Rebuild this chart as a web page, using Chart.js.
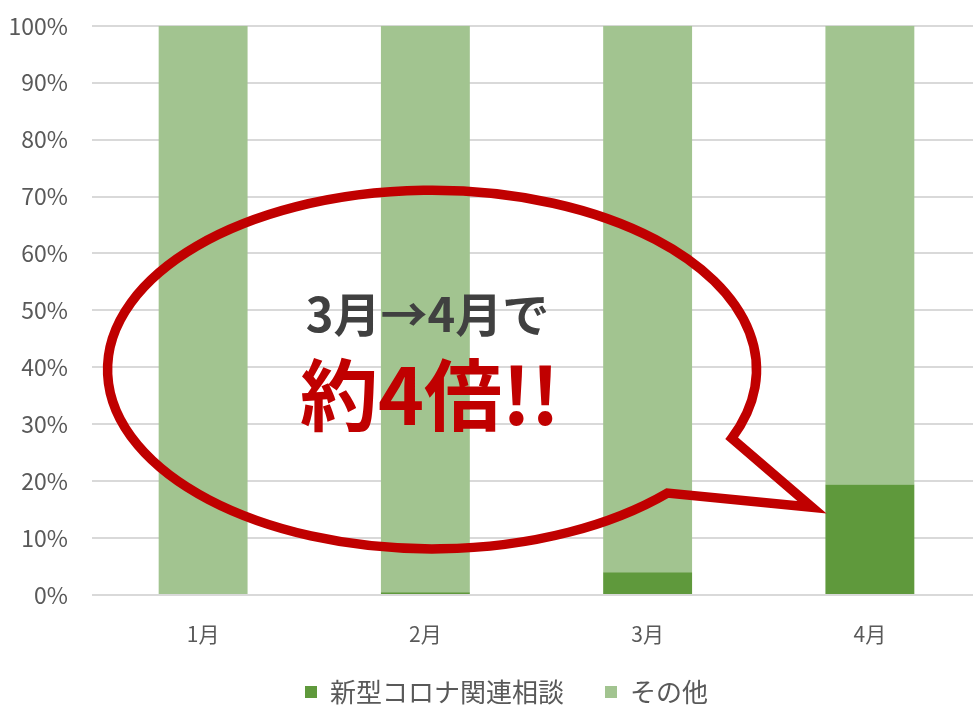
<!DOCTYPE html>
<html>
<head>
<meta charset="utf-8">
<script src="https://cdn.jsdelivr.net/npm/chart.js@4/dist/chart.umd.min.js"></script>
<style>
  html, body { margin: 0; padding: 0; background: #fff; overflow: hidden; }
  #wrap { width: 1012px; height: 707px; }
</style>
</head>
<body>
<div id="wrap"><canvas id="chart"></canvas></div>
<script>
const months = ['1月', '2月', '3月', '4月'];
const coronaShare = [0, 0.5, 4.0, 19.4];
const otherShare = [100, 99.5, 96.0, 80.6];
const yTicks = [0, 10, 20, 30, 40, 50, 60, 70, 80, 90, 100];

const FONT = '"Noto Sans CJK JP", "Noto Sans", sans-serif';

// callout bubble, positions in category index / percent units
const bubble = {
    cx: 1.03, cy: 39.6, rx: 1.46, ry: 31.5,
    joinTop: [2.37, 27.6], tip: [2.74, 15.4], joinBottom: [2.07, 18.3],
    line1: '3月→4月で', line2: '約4倍!!'
};

const calloutPlugin = {
    id: 'callout',
    afterLayout(chart) {
        // nudge legend to sit like the original
        const lg = chart.legend;
        lg.top += 8; lg.bottom += 8;
        lg.left += 16; lg.right += 16;
    },
    afterDatasetsDraw(chart) {
        const ctx = chart.ctx;
        const x = chart.scales.x, y = chart.scales.y;
        const px = v => x.getPixelForValue(v);
        const py = v => y.getPixelForValue(v);
        const cx = px(bubble.cx), cy = py(bubble.cy);
        const rx = px(bubble.cx + bubble.rx) - cx;
        const ry = py(bubble.cy - bubble.ry) - cy;
        const ang = (p) => Math.atan2((py(p[1]) - cy) / ry, (px(p[0]) - cx) / rx);
        const a0 = ang(bubble.joinBottom);
        const a1 = ang(bubble.joinTop) + Math.PI * 2;

        ctx.save();
        ctx.beginPath();
        ctx.ellipse(cx, cy, rx, ry, 0, a0, a1);
        ctx.lineTo(px(bubble.tip[0]), py(bubble.tip[1]));
        ctx.closePath();
        ctx.lineWidth = 9.5;
        ctx.lineJoin = 'miter';
        ctx.strokeStyle = '#c00000';
        ctx.stroke();

        ctx.textAlign = 'center';
        ctx.textBaseline = 'middle';
        ctx.fillStyle = '#404040';
        ctx.font = 'bold 47px ' + FONT;
        ctx.fillText(bubble.line1, px(1.01), py(49.3));
        ctx.fillStyle = '#c00000';
        ctx.font = 'bold 78px ' + FONT;
        ctx.fillText(bubble.line2, px(1.02), py(35));
        ctx.restore();
    }
};

new Chart(document.getElementById('chart'), {
    type: 'bar',
    data: {
        labels: months,
        datasets: [
            { label: '新型コロナ関連相談', data: coronaShare, backgroundColor: '#5f993c' },
            { label: 'その他', data: otherShare, backgroundColor: '#a2c490' }
        ]
    },
    options: {
        responsive: true,
        maintainAspectRatio: false,
        animation: false,
        categoryPercentage: 1,
        barPercentage: 0.4,
        layout: { padding: { left: 0, right: 31, top: 0, bottom: 0 } },
        plugins: {
            tooltip: { enabled: false },
            legend: {
                position: 'bottom',
                labels: {
                    boxWidth: 12, boxHeight: 12, padding: 2,
                    color: '#595959',
                    font: { family: FONT, size: 26 },
                    generateLabels: (chart) => {
                        const items = Chart.defaults.plugins.legend.labels.generateLabels(chart);
                        // widen gap between the two entries
                        items[0].text += '\u3000\u2002';
                        return items;
                    }
                }
            }
        },
        scales: {
            x: {
                stacked: true,
                grid: { display: false },
                border: { display: false },
                afterFit: s => { s.height = 74; },
                ticks: { color: '#595959', padding: 18, font: { family: FONT, size: 21 } }
            },
            y: {
                stacked: true,
                min: 0, max: 100,
                afterBuildTicks: s => { s.ticks = yTicks.map(v => ({ value: v })); },
                afterFit: s => { s.width = 92; },
                grid: { color: '#d9d9d9', lineWidth: 2, tickLength: 12, tickColor: 'rgba(0,0,0,0)' },
                border: { display: false },
                ticks: {
                    color: '#595959', padding: 12,
                    font: { family: FONT, size: 23 },
                    callback: v => v + '%'
                }
            }
        }
    },
    plugins: [calloutPlugin]
});
</script>
</body>
</html>
